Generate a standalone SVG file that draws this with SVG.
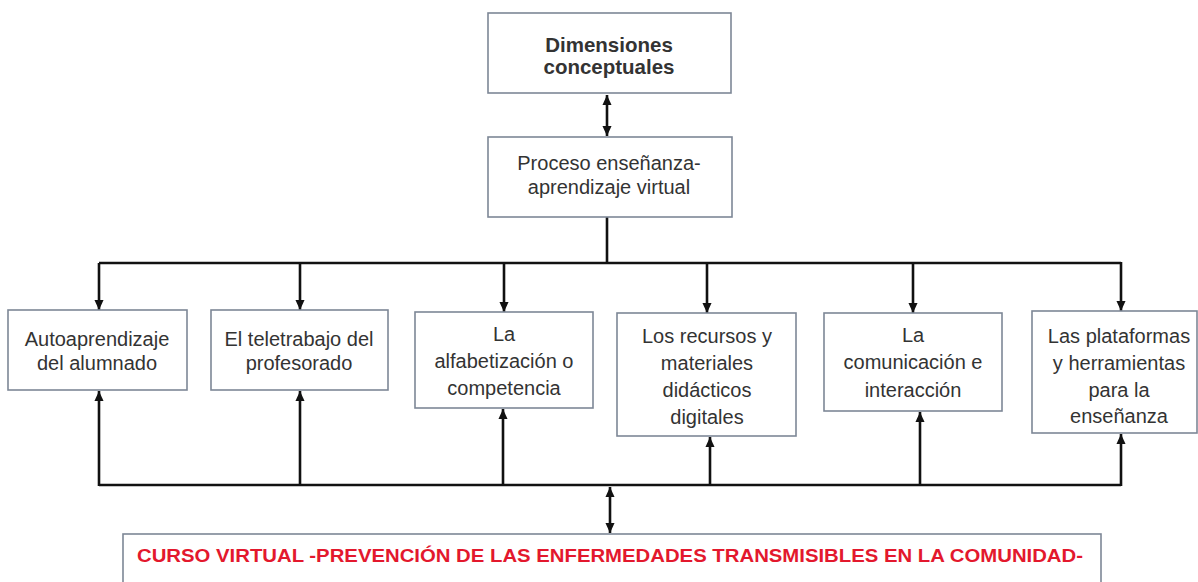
<svg xmlns="http://www.w3.org/2000/svg" width="1198" height="582" viewBox="0 0 1198 582">
<style>
.box{fill:#ffffff;stroke:#7d8796;stroke-width:1.6}
.t{font-family:"Liberation Sans",Arial,sans-serif;font-size:20px;fill:#333333;text-anchor:middle}
.b{font-weight:bold;font-size:20.5px}
.red{font-family:"Liberation Sans",Arial,sans-serif;font-weight:bold;font-size:18.5px;fill:#e3182d}
.c{fill:none;stroke:#111111;stroke-width:2.6}
</style>
<defs>
<marker id="ah" markerUnits="userSpaceOnUse" markerWidth="10" markerHeight="12" refX="11" refY="5" viewBox="0 0 11 10" orient="auto-start-reverse">
<path d="M0,0 L11,5 L0,10 z" fill="#111111"/>
</marker>
</defs>
<rect width="1198" height="582" fill="#ffffff"/>

<g id="connectors">
<line class="c" x1="607" y1="95" x2="607" y2="136" marker-start="url(#ah)" marker-end="url(#ah)"/>
<polyline class="c" points="607,217 607,263"/>
<polyline class="c" points="99,263 1121,263"/>
<line class="c" x1="99" y1="263" x2="99" y2="310" marker-end="url(#ah)"/>
<line class="c" x1="300" y1="263" x2="300" y2="310" marker-end="url(#ah)"/>
<line class="c" x1="504" y1="263" x2="504" y2="312" marker-end="url(#ah)"/>
<line class="c" x1="707" y1="263" x2="707" y2="313" marker-end="url(#ah)"/>
<line class="c" x1="913" y1="263" x2="913" y2="313" marker-end="url(#ah)"/>
<line class="c" x1="1121" y1="262" x2="1121" y2="311" marker-end="url(#ah)"/>
<polyline class="c" points="99,485 1121,485"/>
<line class="c" x1="99" y1="486" x2="99" y2="391" marker-end="url(#ah)"/>
<line class="c" x1="300" y1="485" x2="300" y2="391" marker-end="url(#ah)"/>
<line class="c" x1="503" y1="485" x2="503" y2="409" marker-end="url(#ah)"/>
<line class="c" x1="710" y1="485" x2="710" y2="437" marker-end="url(#ah)"/>
<line class="c" x1="920" y1="485" x2="920" y2="412" marker-end="url(#ah)"/>
<line class="c" x1="1121" y1="486" x2="1121" y2="434" marker-end="url(#ah)"/>
<line class="c" x1="610" y1="487" x2="610" y2="533" marker-start="url(#ah)" marker-end="url(#ah)"/>
</g>

<g id="dimensiones">
<rect class="box" x="488" y="13" width="243" height="80"/>
<text class="t b" x="609" y="52">Dimensiones</text>
<text class="t b" x="609" y="74">conceptuales</text>
</g>

<g id="proceso">
<rect class="box" x="488" y="137" width="244" height="80"/>
<text class="t" x="609" y="170">Proceso enseñanza-</text>
<text class="t" x="609" y="194">aprendizaje virtual</text>
</g>

<g id="autoaprendizaje">
<rect class="box" x="8" y="310" width="179" height="80"/>
<text class="t" x="97" y="346">Autoaprendizaje</text>
<text class="t" x="97" y="370">del alumnado</text>
</g>

<g id="teletrabajo">
<rect class="box" x="211" y="310" width="177" height="80"/>
<text class="t" x="299" y="346">El teletrabajo del</text>
<text class="t" x="299" y="370">profesorado</text>
</g>

<g id="alfabetizacion">
<rect class="box" x="415" y="312" width="178" height="96"/>
<text class="t" x="504" y="341">La</text>
<text class="t" x="504" y="368">alfabetización o</text>
<text class="t" x="504" y="395">competencia</text>
</g>

<g id="recursos">
<rect class="box" x="617" y="313" width="179" height="123"/>
<text class="t" x="707" y="343">Los recursos y</text>
<text class="t" x="707" y="370">materiales</text>
<text class="t" x="707" y="397">didácticos</text>
<text class="t" x="707" y="424">digitales</text>
</g>

<g id="comunicacion">
<rect class="box" x="824" y="313" width="178" height="98"/>
<text class="t" x="913" y="342">La</text>
<text class="t" x="913" y="369">comunicación e</text>
<text class="t" x="913" y="397">interacción</text>
</g>

<g id="plataformas">
<rect class="box" x="1032" y="311" width="165" height="122"/>
<text class="t" x="1119" y="343">Las plataformas</text>
<text class="t" x="1119" y="370">y herramientas</text>
<text class="t" x="1119" y="397">para la</text>
<text class="t" x="1119" y="423">enseñanza</text>
</g>

<g id="curso">
<rect class="box" x="123" y="534" width="978" height="56"/>
<text class="red" x="137" y="562" textLength="946" lengthAdjust="spacingAndGlyphs">CURSO VIRTUAL -PREVENCIÓN DE LAS ENFERMEDADES TRANSMISIBLES EN LA COMUNIDAD-</text>
</g>
</svg>
